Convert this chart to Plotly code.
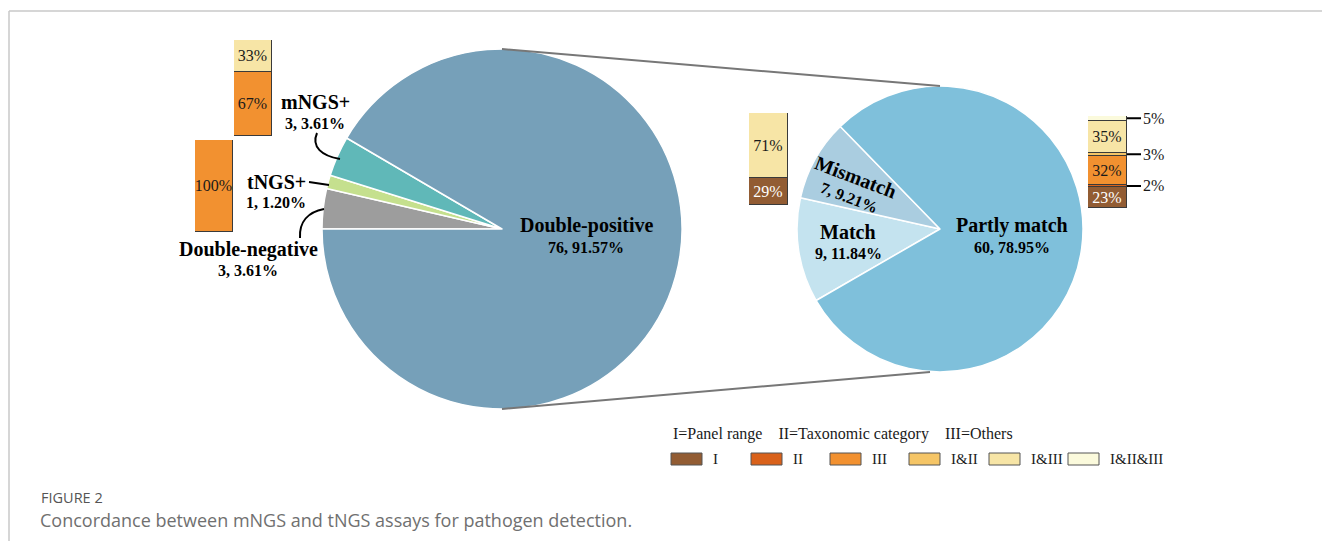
import plotly.graph_objects as go

# ---------------- data ----------------
pie1_labels = ["Double-negative", "tNGS+", "mNGS+", "Double-positive"]
pie1_values = [3, 1, 3, 76]
pie2_labels = ["Match", "Mismatch", "Partly match"]
pie2_values = [9, 7, 60]

mngs_cats = ["III", "I&III"]
mngs_vals = [67, 33]
tngs_cats = ["III"]
tngs_vals = [100]
mismatch_cats = ["I", "I&III"]
mismatch_vals = [29, 71]
partly_cats = ["I", "II", "III", "I&II", "I&III", "I&II&III"]
partly_vals = [23, 2, 32, 3, 35, 5]

legend_cats = ["I", "II", "III", "I&II", "I&III", "I&II&III"]

# ---------------- styles ----------------
W, H = 1322, 549
SERIF = "Liberation Serif, Times New Roman, serif"
pie1_colors = ["#9D9D9D", "#C5E08E", "#60B8B8", "#76A0B9"]
pie2_colors = ["#C4E3EF", "#AACDE0", "#7FC0DB"]
cat_colors = {"I": "#925C33", "II": "#D9611A", "III": "#F29130",
              "I&II": "#F5C566", "I&III": "#F7E5A6", "I&II&III": "#FBFADC"}
TITLE_SIZE, SUB_SIZE, BAR_SIZE = 20, 16, 16


def px(x):
    return x / W


def py(y):
    return 1 - y / H


def ann(x, y, text, size, color="black", family=SERIF, xanchor="center", angle=0):
    return dict(xref="paper", yref="paper", x=px(x), y=py(y), text=text,
                showarrow=False, xanchor=xanchor, yanchor="middle", textangle=angle,
                font=dict(family=family, size=size, color=color))


# pie geometry (pixels)
c1x, c1y, r1 = 502, 229, 180
c2x, c2y, r2 = 940, 229, 143

fig = go.Figure()

fig.add_trace(go.Pie(
    labels=pie1_labels, values=pie1_values, sort=False, direction="clockwise",
    rotation=270, textinfo="none", hoverinfo="label+value+percent",
    marker=dict(colors=pie1_colors, line=dict(color="white", width=1.5)),
    domain=dict(x=[px(c1x - r1), px(c1x + r1)], y=[py(c1y + r1), py(c1y - r1)]),
    showlegend=False))

fig.add_trace(go.Pie(
    labels=pie2_labels, values=pie2_values, sort=False, direction="clockwise",
    rotation=240, textinfo="none", hoverinfo="label+value+percent",
    marker=dict(colors=pie2_colors, line=dict(color="white", width=1.5)),
    domain=dict(x=[px(c2x - r2), px(c2x + r2)], y=[py(c2y + r2), py(c2y - r2)]),
    showlegend=False))

# ---------------- stacked bars ----------------
bar_groups = [
    (mngs_cats, mngs_vals, (234, 272, 40, 136)),
    (tngs_cats, tngs_vals, (195, 233, 140, 232)),
    (mismatch_cats, mismatch_vals, (749, 788, 113, 205)),
    (partly_cats, partly_vals, (1088, 1127, 116, 208)),
]

layout_axes = {}
annotations = []
for gi, (cats, vals, box) in enumerate(bar_groups):
    n = gi + 2
    xa, ya = f"x{n}", f"y{n}"
    x0, x1, y0, y1 = box
    layout_axes[f"xaxis{n}"] = dict(domain=[px(x0), px(x1)], range=[-0.5, 0.5],
                                    visible=False, anchor=ya, fixedrange=True)
    layout_axes[f"yaxis{n}"] = dict(domain=[py(y1), py(y0)], range=[0, 100],
                                    visible=False, anchor=xa, fixedrange=True)
    cum = 0
    for c, v in zip(cats, vals):
        fig.add_trace(go.Bar(
            x=[0], y=[v], xaxis=xa, yaxis=ya, width=1,
            marker=dict(color=cat_colors[c], line=dict(color="#3a3a3a", width=1)),
            text=[f"{v}%" if v >= 10 else ""], textposition="inside",
            insidetextanchor="middle", textangle=0,
            textfont=dict(family=SERIF, size=BAR_SIZE,
                          color="white" if c == "I" else "#1a1a1a"),
            hovertemplate=f"{c}: {v}%<extra></extra>", showlegend=False))
        if v < 10:
            annotations.append(dict(
                xref=f"{xa} domain", yref=ya, x=1, y=cum + v / 2,
                text=f"{v}%", showarrow=True, arrowhead=0, arrowwidth=2,
                arrowcolor="black", ax=26, ay=0, standoff=0,
                font=dict(family=SERIF, size=BAR_SIZE, color="#1a1a1a")))
        cum += v

# ---------------- pie labels ----------------
def pie_label(values, i):
    tot = sum(values)
    return f"{values[i]}, {values[i] / tot * 100:.2f}%"


label_specs = [
    (pie1_labels[3], pie_label(pie1_values, 3), 586, 226, 247),
    (pie1_labels[2], pie_label(pie1_values, 2), 315, 102, 123),
    (pie1_labels[1], pie_label(pie1_values, 1), 276, 182, 202),
    (pie1_labels[0], pie_label(pie1_values, 0), 248, 249, 270),
    (pie2_labels[2], pie_label(pie2_values, 2), 1012, 226, 247),
    (pie2_labels[0], pie_label(pie2_values, 0), 848, 232, 253),
]
for name, sub, x, yt, ys in label_specs:
    annotations.append(ann(x, yt, f"<b>{name}</b>", TITLE_SIZE))
    annotations.append(ann(x, ys, f"<b>{sub}</b>", SUB_SIZE))
# rotated Mismatch label
annotations.append(ann(856, 177, f"<b>{pie2_labels[1]}</b>", TITLE_SIZE, angle=21))
annotations.append(ann(849, 198, f"<b>{pie_label(pie2_values, 1)}</b>", SUB_SIZE, angle=21))

# ---------------- legend ----------------
annotations.append(ann(671, 434,
                       "I=Panel range&nbsp;&nbsp;&nbsp;&nbsp;II=Taxonomic category&nbsp;&nbsp;&nbsp;&nbsp;III=Others",
                       16, color="#1a1a1a", xanchor="left"))
shapes = []
leg_x = [671, 751, 830, 909, 989, 1068]
for c, lx in zip(legend_cats, leg_x):
    shapes.append(dict(type="rect", xref="paper", yref="paper",
                       x0=px(lx), x1=px(lx + 31), y0=py(465), y1=py(453),
                       fillcolor=cat_colors[c], line=dict(color="#555", width=1)))
    annotations.append(ann(lx + 40, 459, c, 15, color="#1a1a1a", xanchor="left"))

# ---------------- connectors ----------------
shapes.append(dict(type="line", xref="paper", yref="paper",
                   x0=px(c1x), y0=py(c1y - r1), x1=px(c2x), y1=py(c2y - r2),
                   line=dict(color="#777", width=2)))
shapes.append(dict(type="line", xref="paper", yref="paper",
                   x0=px(c1x), y0=py(c1y + r1), x1=px(c2x - 10), y1=py(c2y + r2),
                   line=dict(color="#777", width=2)))


def pth(pts, cmd):
    s = f"M {px(pts[0][0])},{py(pts[0][1])} {cmd}"
    s += " ".join(f"{px(a)},{py(b)}" for a, b in pts[1:])
    return s


shapes.append(dict(type="path", xref="paper", yref="paper",
                   path=pth([(317, 133), (311, 147), (322, 156), (340, 159)], "C "),
                   line=dict(color="black", width=2)))
shapes.append(dict(type="path", xref="paper", yref="paper",
                   path=pth([(300, 238), (299, 222), (308, 212), (324, 209)], "C "),
                   line=dict(color="black", width=2)))
shapes.append(dict(type="line", xref="paper", yref="paper",
                   x0=px(309), y0=py(182), x1=px(329), y1=py(185),
                   line=dict(color="black", width=2)))

# frame
shapes.append(dict(type="line", xref="paper", yref="paper", x0=px(9), y0=py(11),
                   x1=1, y1=py(11), line=dict(color="#c8c8c8", width=1.5)))
shapes.append(dict(type="line", xref="paper", yref="paper", x0=px(9), y0=py(11),
                   x1=px(9), y1=py(541), line=dict(color="#c8c8c8", width=1.5)))

# caption
annotations.append(ann(39, 497, "FIGURE 2", 14.5, color="#555",
                       family="Open Sans, sans-serif", xanchor="left"))
annotations.append(ann(38, 520, "Concordance between mNGS and tNGS assays for pathogen detection.",
                       18, color="#707070", family="Open Sans, sans-serif", xanchor="left"))

fig.update_layout(
    width=W, height=H, margin=dict(l=0, r=0, t=0, b=0),
    paper_bgcolor="white", plot_bgcolor="white",
    barmode="stack", bargap=0, showlegend=False,
    uniformtext=dict(minsize=BAR_SIZE, mode="show"),
    xaxis=dict(visible=False), yaxis=dict(visible=False),
    shapes=shapes, annotations=annotations, **layout_axes)

fig.write_html("out.html", config={"displayModeBar": False},
               post_script="document.body.style.margin='0';document.body.style.overflow='hidden';")
